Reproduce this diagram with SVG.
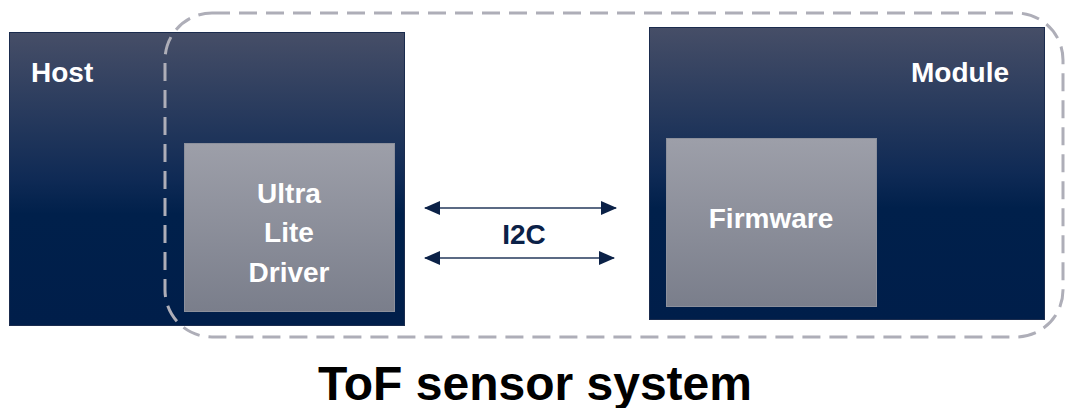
<svg xmlns="http://www.w3.org/2000/svg" width="1067" height="408" viewBox="0 0 1067 408">
<defs>
<linearGradient id="navy" x1="0" y1="0" x2="0" y2="1">
<stop offset="0" stop-color="#464e67"/>
<stop offset="0.5" stop-color="#0f2a55"/>
<stop offset="0.62" stop-color="#00204b"/>
<stop offset="1" stop-color="#001e4a"/>
</linearGradient>
<linearGradient id="grey" x1="0" y1="0" x2="0" y2="1">
<stop offset="0" stop-color="#9d9fa9"/>
<stop offset="1" stop-color="#7a7e8b"/>
</linearGradient>
<marker id="ah" viewBox="0 0 10 10" refX="9" refY="5" markerWidth="8" markerHeight="8" markerUnits="userSpaceOnUse" orient="auto-start-reverse">
<path d="M0,0 L10,5 L0,10 z" fill="#0b2147"/>
</marker>
<marker id="ahb" viewBox="0 0 16 14" refX="15" refY="7" markerWidth="16" markerHeight="14" markerUnits="userSpaceOnUse" orient="auto-start-reverse">
<path d="M0,0 L16,7 L0,14 z" fill="#0b2147"/>
</marker>
</defs>
<style>
.outer{fill:url(#navy);stroke:#1b2c4e;stroke-width:1}
.inner{fill:url(#grey);stroke:#8c909c;stroke-width:1}
.lbl{font-family:"Liberation Sans",Arial,sans-serif;font-weight:bold;font-size:28px;fill:#ffffff}
.conn{stroke:#5b6a84;stroke-width:2;fill:none;marker-start:url(#ahb);marker-end:url(#ahb)}
.dash{fill:none;stroke:#aeaeb8;stroke-width:3;stroke-dasharray:18 9}
</style>
<g id="host">
<rect class="outer" x="9.5" y="32.5" width="395" height="293"/>
<text class="lbl" x="31" y="82">Host</text>
</g>
<g id="driver">
<rect class="inner" x="184.5" y="143.5" width="210" height="168"/>
<text class="lbl" text-anchor="middle" x="289" y="203">Ultra</text>
<text class="lbl" text-anchor="middle" x="289" y="242">Lite</text>
<text class="lbl" text-anchor="middle" x="289" y="282">Driver</text>
</g>
<g id="module">
<rect class="outer" x="649.5" y="27.5" width="395" height="292"/>
<text class="lbl" text-anchor="end" x="1009" y="82">Module</text>
</g>
<g id="firmware">
<rect class="inner" x="666.5" y="138.5" width="210" height="168"/>
<text class="lbl" x="771" y="228" text-anchor="middle">Firmware</text>
</g>
<g id="system">
<path class="dash" d="M212,13 L1016,13 A47,47 0 0 1 1063,60 L1063,290 A47,47 0 0 1 1016,337 L212,337 A47,47 0 0 1 165,290 L165,60 A47,47 0 0 1 212,13 Z"/>
<text x="535" y="400" text-anchor="middle" style="font-family:'Liberation Sans',Arial,sans-serif;font-weight:bold;font-size:48px;fill:#000000">ToF sensor system</text>
</g>
<g id="connectors">
<line class="conn" x1="425" y1="208" x2="616" y2="208"/>
<line class="conn" x1="425" y1="258" x2="614" y2="258"/>
<text x="524" y="244" text-anchor="middle" style="font-family:'Liberation Sans',Arial,sans-serif;font-weight:bold;font-size:28px;fill:#0b2147">I2C</text>
</g>
</svg>
